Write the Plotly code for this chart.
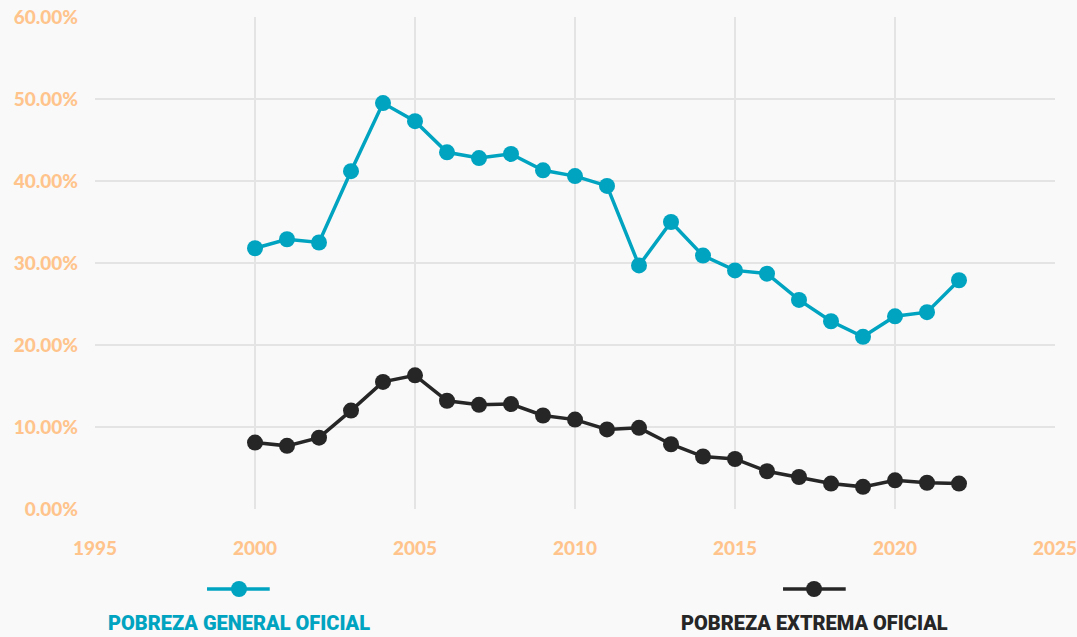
import plotly.graph_objects as go

years = list(range(2000, 2023))
general = [31.8, 32.9, 32.5, 41.2, 49.5, 47.3, 43.5, 42.8, 43.3, 41.3, 40.6, 39.4,
           29.7, 35.0, 30.9, 29.1, 28.7, 25.5, 22.9, 21.0, 23.5, 24.0, 27.9]
extrema = [8.1, 7.7, 8.7, 12.0, 15.5, 16.3, 13.2, 12.7, 12.8, 11.4, 10.9, 9.7,
           9.9, 7.9, 6.4, 6.1, 4.6, 3.9, 3.1, 2.7, 3.5, 3.2, 3.1]
series_names = ["POBREZA GENERAL OFICIAL", "POBREZA EXTREMA OFICIAL"]
x_ticks = [1995, 2000, 2005, 2010, 2015, 2020, 2025]
y_ticks = [0, 10, 20, 30, 40, 50, 60]

TEAL = "#00a3c0"
DARK = "#262626"
PEACH = "#ffc48c"
GRID = "#e4e4e4"
BG = "#f9f9f9"

fig = go.Figure()
for name, vals, col in [(series_names[0], general, TEAL), (series_names[1], extrema, DARK)]:
    fig.add_trace(go.Scatter(x=years, y=vals, mode="lines+markers", name=name,
                             line=dict(color=col, width=3.5),
                             marker=dict(color=col, size=16), showlegend=False))

tickfont = dict(family="Lato", size=19, color=PEACH, weight=900)
fig.update_layout(
    width=1077, height=637,
    margin=dict(l=95, r=22, t=17, b=128),
    paper_bgcolor=BG, plot_bgcolor=BG,
    xaxis=dict(range=[1995, 2025], tickvals=x_ticks, showgrid=True, gridcolor=GRID,
               gridwidth=2, zeroline=False, showline=False, ticks="", ticklabelstandoff=26,
               automargin=False, ticklabeloverflow="allow", tickfont=tickfont),
    yaxis=dict(range=[0, 60], tickvals=y_ticks, ticktext=[f"{v:.2f}%" for v in y_ticks],
               showgrid=True, gridcolor=GRID, gridwidth=2, zeroline=False, showline=False,
               ticks="", ticklabelstandoff=16, automargin=False, ticklabeloverflow="allow",
               tickfont=tickfont),
)

# custom legend
ly = -0.1626
for (x0, x1, xc, col, name) in [(0.1167, 0.182, 0.15, TEAL, series_names[0]),
                                 (0.7167, 0.782, 0.749, DARK, series_names[1])]:
    fig.add_shape(type="line", xref="paper", yref="paper", x0=x0, x1=x1, y0=ly, y1=ly,
                  line=dict(color=col, width=3.5))
    fig.add_shape(type="circle", xref="paper", yref="paper", xsizemode="pixel", ysizemode="pixel",
                  xanchor=xc, yanchor=ly, x0=-8, x1=8, y0=-8, y1=8,
                  fillcolor=col, line=dict(color=col, width=0))
    fig.add_annotation(x=xc, y=-0.231, xref="paper", yref="paper", text=name,
                       xanchor="center", yanchor="middle", showarrow=False,
                       font=dict(family="Roboto", size=20, color=col, weight=900))

fig.write_html("out.html", config={"displayModeBar": False},
               post_script="document.body.style.margin='0';document.body.style.background='#f9f9f9';")
